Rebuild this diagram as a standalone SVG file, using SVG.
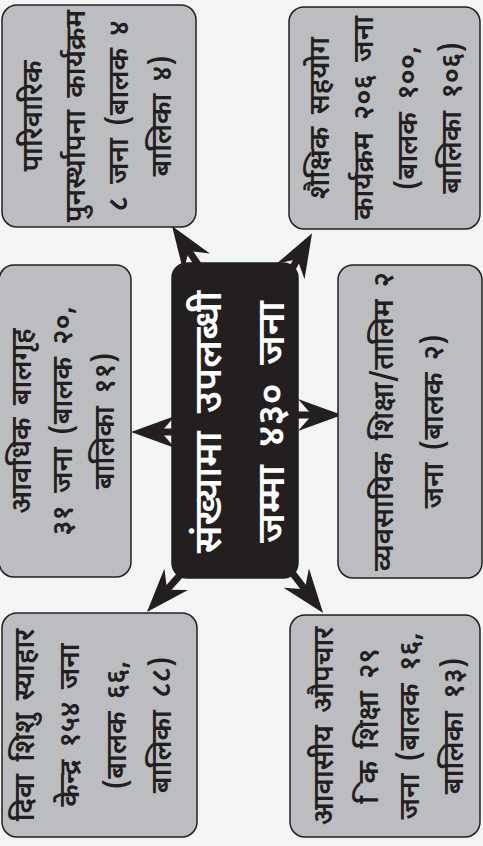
<svg xmlns="http://www.w3.org/2000/svg" width="483" height="846" viewBox="0 0 483 846">
<style>
.bg{fill:#f3f5f4}
.node{fill:#bcbdc0;stroke:#231f20;stroke-width:1.5}
.hub{fill:#231f20;stroke:#231f20;stroke-width:1.5}
.t{font-family:"Noto Sans Devanagari","Noto Sans","Lohit Devanagari",sans-serif;font-size:28px;font-weight:600;fill:#231f20;text-anchor:middle;word-spacing:5px}
.ht{font-family:"Noto Sans Devanagari","Noto Sans","Lohit Devanagari",sans-serif;font-size:39px;font-weight:600;fill:#ffffff;text-anchor:middle;word-spacing:8px}
.conn{stroke:#231f20;stroke-width:7;fill:none;marker-end:url(#ah)}
</style>
<defs>
<marker id="ah" markerUnits="userSpaceOnUse" markerWidth="46" markerHeight="34" refX="14" refY="16" orient="auto" viewBox="0 0 46 34">
<path d="M44,16 L0,0 L14,16 L0,32 Z" fill="#231f20"/>
</marker>
</defs>
<rect class="bg" x="0" y="0" width="483" height="846"/>
<g id="connectors">
<line class="conn" x1="205.6" y1="275.8" x2="188.8" y2="250.9"/>
<line class="conn" x1="283" y1="285" x2="297.4" y2="259.3"/>
<line class="conn" x1="185" y1="432" x2="161" y2="432"/>
<line class="conn" x1="285" y1="415" x2="312" y2="415"/>
<line class="conn" x1="187" y1="567.4" x2="167" y2="589.7"/>
<line class="conn" x1="286.5" y1="565.4" x2="304.8" y2="589.2"/>
</g>
<g id="hub">
<rect class="hub" x="172" y="263" width="126" height="315" rx="15"/>
<g transform="translate(241.5,422) rotate(-90)">
<text class="ht" x="0" y="-20.5">संख्यामा उपलब्धी</text>
<text class="ht" x="0" y="42.5">जम्मा ४३० जना</text>
</g>
</g>
<g id="node-parivarik">
<rect class="node" x="2" y="5" width="194" height="222" rx="15"/>
<g transform="translate(99,116) rotate(-90)">
<text class="t" x="0" y="-57">पारिवारिक</text>
<text class="t" x="0" y="-14">पुनर्स्थापना कार्यक्रम</text>
<text class="t" x="0" y="29">८ जना (बालक ४</text>
<text class="t" x="0" y="72">बालिका ४)</text>
</g>
</g>
<g id="node-shaikshik">
<rect class="node" x="289" y="7" width="191" height="222" rx="15"/>
<g transform="translate(387,118) rotate(-90)">
<text class="t" x="0" y="-58.5">शैक्षिक सहयोग</text>
<text class="t" x="0" y="-14.5">कार्यक्रम २०६ जना</text>
<text class="t" x="0" y="29.5">(बालक १००,</text>
<text class="t" x="0" y="73.5">बालिका १०६)</text>
</g>
</g>
<g id="node-aavadhik">
<rect class="node" x="-1" y="265" width="132" height="312" rx="15"/>
<g transform="translate(65,421) rotate(-90)">
<text class="t" x="0" y="-34.5">आवधिक बालगृह</text>
<text class="t" x="0" y="6.5">३१ जना (बालक २०,</text>
<text class="t" x="0" y="48.5">बालिका ११)</text>
</g>
</g>
<g id="node-vyavasayik">
<rect class="node" x="338" y="265" width="144" height="313" rx="15"/>
<g transform="translate(410,421.5) rotate(-90)">
<text class="t" x="0" y="-17.5">व्यवसायिक शिक्षा/तालिम २</text>
<text class="t" x="0" y="32.5">जना (बालक २)</text>
</g>
</g>
<g id="node-diva">
<rect class="node" x="2" y="613" width="195" height="224" rx="15"/>
<g transform="translate(95,725) rotate(-90)">
<text class="t" x="0" y="-61.5">दिवा शिशु स्याहार</text>
<text class="t" x="0" y="-16.5">केन्द्र १५४ जना</text>
<text class="t" x="0" y="30.5">(बालक ६६,</text>
<text class="t" x="0" y="75.5">बालिका ८८)</text>
</g>
</g>
<g id="node-aavasiya">
<rect class="node" x="290" y="615" width="190" height="222" rx="15"/>
<g transform="translate(390,726) rotate(-90)">
<text class="t" x="0" y="-57.5">आवासीय औपचार</text>
<text class="t" x="0" y="-12.5">&#160;िक शिक्षा २९</text>
<text class="t" x="0" y="28.5">जना (बालक १६,</text>
<text class="t" x="0" y="72.5">बालिका १३)</text>
</g>
</g>
</svg>
